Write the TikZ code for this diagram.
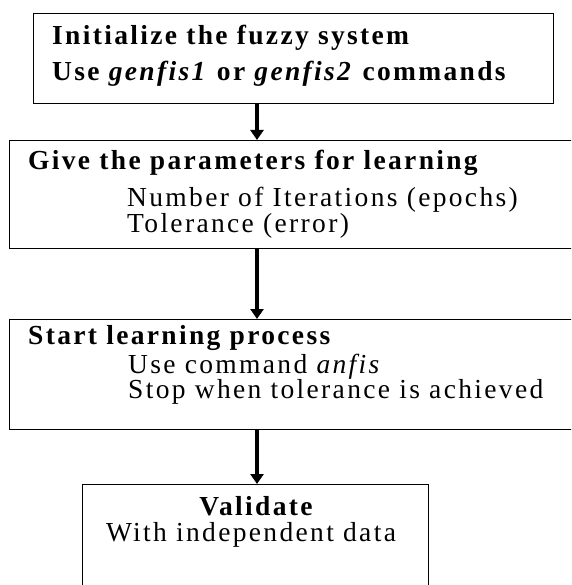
\documentclass[tikz,border=0pt]{standalone}
\usepackage{fontspec}
\setmainfont[LetterSpace=8.5]{Liberation Serif}
\usetikzlibrary{arrows.meta}
\tikzset{
  stepbox/.style={draw, line width=1.4pt, inner sep=0pt, anchor=north west},
  txt/.style={anchor=base west, inner sep=0pt, font=\fontsize{27.5}{29}\selectfont},
  ttl/.style={txt, font=\fontsize{27.5}{29}\selectfont\bfseries},
  flow/.style={line width=3.5pt, -{Triangle[length=10pt,width=13pt]}}
}
\begin{document}
\begin{tikzpicture}[x=1pt,y=-1pt]
\useasboundingbox (0,0) rectangle (571,585);
\clip (0,0) rectangle (571,585);
% boxes
\node [stepbox, minimum width=520pt, minimum height=90pt] (init) at (33,13) {};
\node [stepbox, minimum width=600pt, minimum height=108pt] (param) at (9,140) {};
\node [stepbox, minimum width=600pt, minimum height=110pt] (learn) at (9,319) {};
\node [stepbox, minimum width=346pt, minimum height=150pt] (valid) at (82,484) {};
% texts
\node [ttl] (initA) at (52,45) {Initialize the fuzzy system};
\node [ttl] (initB) at (52,81) {Use \textit{genfis1} or \textit{genfis2} commands};
\node [ttl] (paramA) at (28,170) {Give the parameters for learning};
\node [txt] (paramB) at (127,207) {Number of Iterations (epochs)};
\node [txt] (paramC) at (127,232) {Tolerance (error)};
\node [ttl] (learnA) at (28,344) {Start learning process};
\node [txt] (learnB) at (128,373) {Use command \textit{anfis}};
\node [txt] (learnC) at (128,398) {Stop when tolerance is achieved};
\node [ttl, anchor=base] (validA) at (256,515) {Validate};
\node [txt, anchor=base] (validB) at (251,541) {With independent data};
% arrows
\coordinate (ax) at (257,0);
\draw [flow] (init.south -| ax) -- (param.north -| ax);
\draw [flow] (param.south -| ax) -- (learn.north -| ax);
\draw [flow] (learn.south -| ax) -- (valid.north -| ax);
\end{tikzpicture}
\end{document}
